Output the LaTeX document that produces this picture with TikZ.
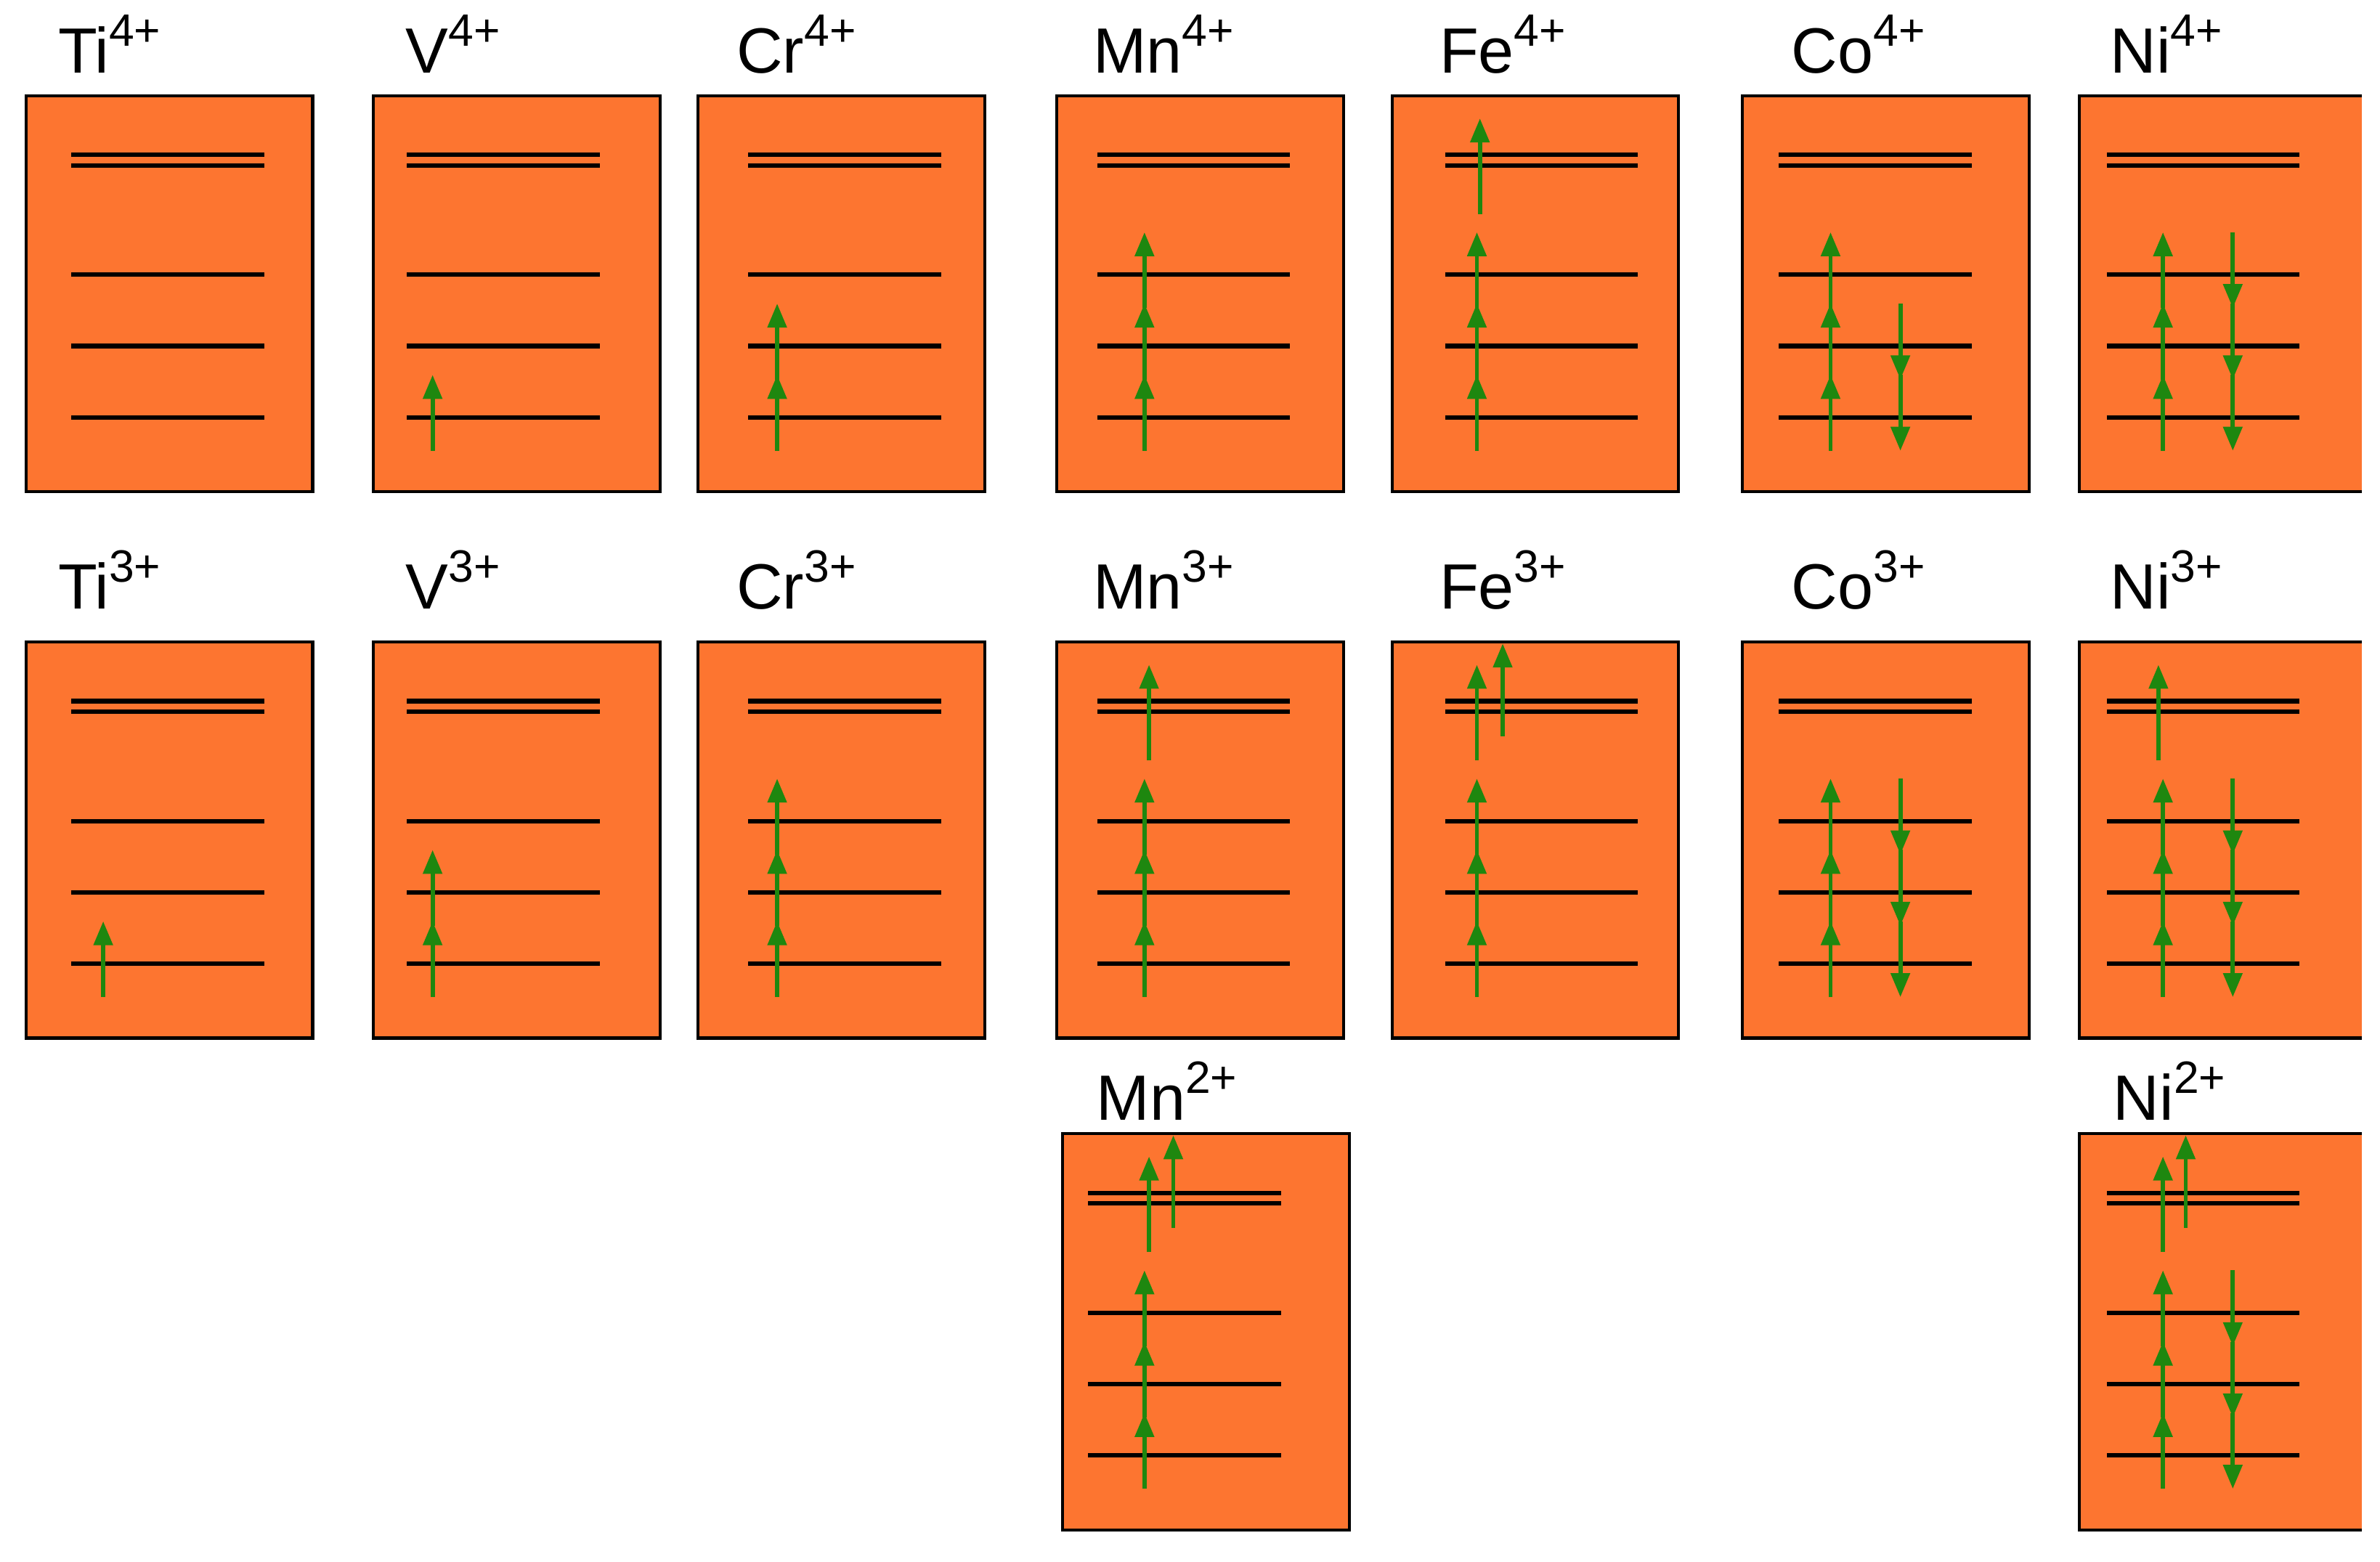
\documentclass[tikz,border=0pt]{standalone}
\usepackage{fontspec}
\setmainfont{Liberation Sans}
\definecolor{boxor}{RGB}{253,117,48}
\definecolor{elgr}{RGB}{30,135,15}
\tikzset{
  cell/.style={draw=black,line width=1.1pt,fill=boxor,minimum width=3.78cm,minimum height=5.22cm,inner sep=0pt,outer sep=0pt},
  lvl/.style={black,line width=1.7pt},
  el/.style={elgr,line width=1.6pt,-{Triangle[width=7pt,length=9pt]}},
  lab/.style={anchor=base west,inner sep=0pt,font=\fontsize{24}{28}\selectfont}
}
\usetikzlibrary{arrows.meta}
\newcommand\ebox[4]{% name, left, top, lines left
  \node[cell] (#1) at (#2+94.5,#3+130.5) {};
  \foreach \o in {39,46,118,165,212} \draw[lvl] (#4,#3+\o) -- (#4+127,#3+\o);}
\newcommand\nibox[4]{%
  \node[cell,draw=none,minimum width=3.72cm] (#1) at (#2+93,#3+130.5) {};
  \draw[black,line width=1.1pt] (#1.north east) -- (#1.north west) -- (#1.south west) -- (#1.south east);
  \foreach \o in {39,46,118,165,212} \draw[lvl] (#4,#3+\o) -- (#4+127,#3+\o);}
\newcommand\up[3]{\draw[el] (#1,#2+#3+22) -- (#1,#2+#3-28);}
\newcommand\dn[3]{\draw[el] (#1,#2+#3-28) -- (#1,#2+#3+22);}
\newcommand\egA[2]{\draw[el] (#1,#2+78) -- (#1,#2+15);}
\newcommand\egB[2]{\draw[el] (#1,#2+62) -- (#1,#2+1);}
\newcommand\lab[4]{\node[lab] (#1) at (#2,#3) {#4};}
\newcommand\ion[2]{#1\raisebox{0.42em}{\fontsize{17}{17}\selectfont #2}}
\begin{document}
\begin{tikzpicture}[x=0.02cm,y=-0.02cm]
\useasboundingbox (0,0) rectangle (1568,1029);
% labels
\lab{l1}{38}{48}{\ion{Ti}{4+}}
\lab{l2}{267}{48}{\ion{V}{4+}}
\lab{l3}{485}{48}{\ion{Cr}{4+}}
\lab{l4}{720}{48}{\ion{Mn}{4+}}
\lab{l5}{948}{48}{\ion{Fe}{4+}}
\lab{l6}{1180}{48}{\ion{Co}{4+}}
\lab{l7}{1390}{48}{\ion{Ni}{4+}}
\lab{m1}{38}{401}{\ion{Ti}{3+}}
\lab{m2}{267}{401}{\ion{V}{3+}}
\lab{m3}{485}{401}{\ion{Cr}{3+}}
\lab{m4}{720}{401}{\ion{Mn}{3+}}
\lab{m5}{948}{401}{\ion{Fe}{3+}}
\lab{m6}{1180}{401}{\ion{Co}{3+}}
\lab{m7}{1390}{401}{\ion{Ni}{3+}}
\lab{n4}{722}{738}{\ion{Mn}{2+}}
\lab{n7}{1392}{738}{\ion{Ni}{2+}}
% row 1
\ebox{a1}{17}{63}{47}
\ebox{a2}{246}{63}{268} \up{285}{63}{212}
\ebox{a3}{460}{63}{493} \up{512}{63}{212}\up{512}{63}{165}
\ebox{a4}{696}{63}{723} \up{754}{63}{212}\up{754}{63}{165}\up{754}{63}{118}
\ebox{a5}{917}{63}{952} \up{973}{63}{212}\up{973}{63}{165}\up{973}{63}{118}\egA{975}{63}
\ebox{a6}{1148}{63}{1172} \up{1206}{63}{212}\up{1206}{63}{165}\up{1206}{63}{118}\dn{1252}{63}{165}\dn{1252}{63}{212}
\nibox{a7}{1370}{63}{1388} \up{1425}{63}{212}\up{1425}{63}{165}\up{1425}{63}{118}\dn{1471}{63}{118}\dn{1471}{63}{165}\dn{1471}{63}{212}
% row 2
\ebox{b1}{17}{423}{47} \up{68}{423}{212}
\ebox{b2}{246}{423}{268} \up{285}{423}{212}\up{285}{423}{165}
\ebox{b3}{460}{423}{493} \up{512}{423}{212}\up{512}{423}{165}\up{512}{423}{118}
\ebox{b4}{696}{423}{723} \up{754}{423}{212}\up{754}{423}{165}\up{754}{423}{118}\egA{757}{423}
\ebox{b5}{917}{423}{952} \up{973}{423}{212}\up{973}{423}{165}\up{973}{423}{118}\egA{973}{423}\egB{990}{423}
\ebox{b6}{1148}{423}{1172} \up{1206}{423}{212}\up{1206}{423}{165}\up{1206}{423}{118}\dn{1252}{423}{118}\dn{1252}{423}{165}\dn{1252}{423}{212}
\nibox{b7}{1370}{423}{1388} \up{1425}{423}{212}\up{1425}{423}{165}\up{1425}{423}{118}\dn{1471}{423}{118}\dn{1471}{423}{165}\dn{1471}{423}{212}\egA{1422}{423}
% row 3
\ebox{c4}{700}{747}{717} \up{754}{747}{212}\up{754}{747}{165}\up{754}{747}{118}\egA{757}{747}\egB{773}{747}
\nibox{c7}{1370}{747}{1388} \up{1425}{747}{212}\up{1425}{747}{165}\up{1425}{747}{118}\dn{1471}{747}{118}\dn{1471}{747}{165}\dn{1471}{747}{212}\egA{1425}{747}\egB{1440}{747}
\end{tikzpicture}
\end{document}
